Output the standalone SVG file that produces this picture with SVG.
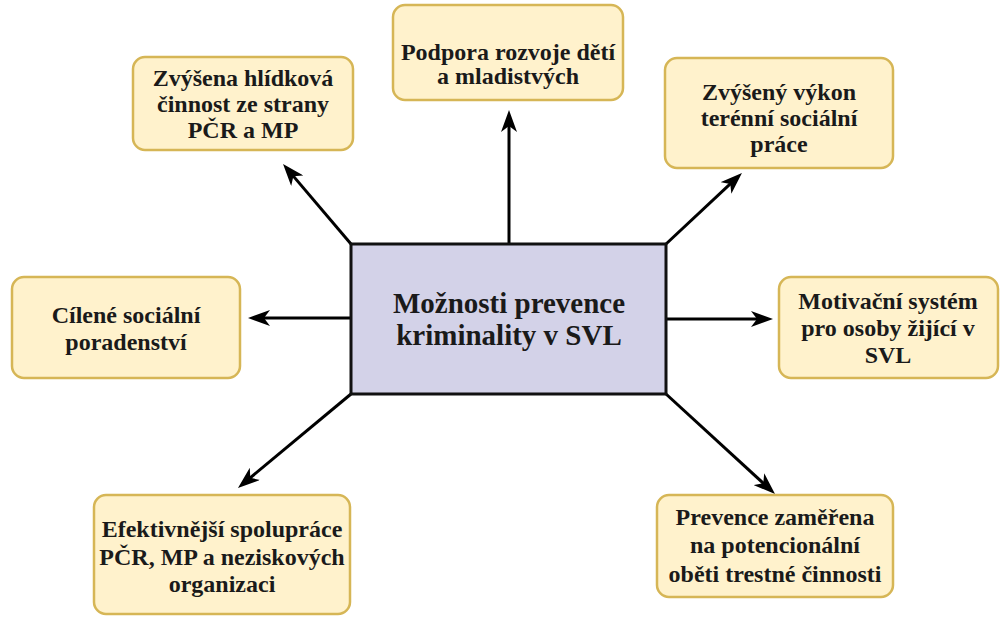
<svg xmlns="http://www.w3.org/2000/svg" width="1000" height="617" viewBox="0 0 1000 617">
<style>
.node rect{fill:#fff2cc;stroke:#d6b656;stroke-width:2.5}
.center rect{fill:#d3d2e8;stroke:#111;stroke-width:3}
text{font-family:"Liberation Serif","Times New Roman",serif;font-weight:bold;fill:#1a1a1a;text-anchor:middle}
.t{font-size:24px}
.tc{font-size:29px}
.conn line{stroke:#000;stroke-width:3}
</style>
<defs>
<marker id="ah" markerUnits="userSpaceOnUse" markerWidth="22" markerHeight="16" viewBox="0 0 22 16" refX="10" refY="8" orient="auto">
<path d="M0,0 L22,8 L0,16 L6,8 z" fill="#000"/>
</marker>
</defs>
<rect width="1000" height="617" fill="#fff"/>
<g id="connectors" class="conn">
<line x1="509" y1="244" x2="509" y2="122" marker-end="url(#ah)"/>
<line x1="351" y1="244" x2="290.8" y2="173.1" marker-end="url(#ah)"/>
<line x1="666" y1="244" x2="733.2" y2="181.2" marker-end="url(#ah)"/>
<line x1="351" y1="318" x2="260" y2="318" marker-end="url(#ah)"/>
<line x1="666" y1="319" x2="761" y2="319" marker-end="url(#ah)"/>
<line x1="351" y1="394" x2="247.2" y2="480.3" marker-end="url(#ah)"/>
<line x1="666" y1="394" x2="766.2" y2="485.9" marker-end="url(#ah)"/>
</g>
<g id="center" class="center">
<rect x="351" y="244" width="315" height="150"/>
<text class="tc" x="509" y="313">Možnosti prevence</text>
<text class="tc" x="509" y="345">kriminality v SVL</text>
</g>
<g id="n-top" class="node">
<rect x="393" y="5" width="230" height="95" rx="12"/>
<text class="t" x="508" y="60">Podpora rozvoje dětí</text>
<text class="t" x="508" y="84">a mladistvých</text>
</g>
<g id="n-topleft" class="node">
<rect x="133" y="57" width="220" height="93" rx="12"/>
<text class="t" x="243" y="86">Zvýšena hlídková</text>
<text class="t" x="243" y="112">činnost ze strany</text>
<text class="t" x="243" y="138">PČR a MP</text>
</g>
<g id="n-topright" class="node">
<rect x="665" y="58" width="228" height="110" rx="12"/>
<text class="t" x="779" y="100">Zvýšený výkon</text>
<text class="t" x="779" y="126">terénní sociální</text>
<text class="t" x="779" y="152">práce</text>
</g>
<g id="n-left" class="node">
<rect x="12" y="277" width="228" height="101" rx="12"/>
<text class="t" x="126" y="323">Cílené sociální</text>
<text class="t" x="126" y="350">poradenství</text>
</g>
<g id="n-right" class="node">
<rect x="779" y="277" width="219" height="101" rx="12"/>
<text class="t" x="888" y="309">Motivační systém</text>
<text class="t" x="888" y="336">pro osoby žijící v</text>
<text class="t" x="888" y="363">SVL</text>
</g>
<g id="n-bottomleft" class="node">
<rect x="94" y="495" width="256" height="119" rx="12"/>
<text class="t" x="222" y="537">Efektivnější spolupráce</text>
<text class="t" x="222" y="565">PČR, MP a neziskových</text>
<text class="t" x="222" y="592">organizaci</text>
</g>
<g id="n-bottomright" class="node">
<rect x="657" y="495" width="236" height="102" rx="12"/>
<text class="t" x="775" y="525">Prevence zaměřena</text>
<text class="t" x="775" y="553">na potencionální</text>
<text class="t" x="775" y="582">oběti trestné činnosti</text>
</g>
</svg>
